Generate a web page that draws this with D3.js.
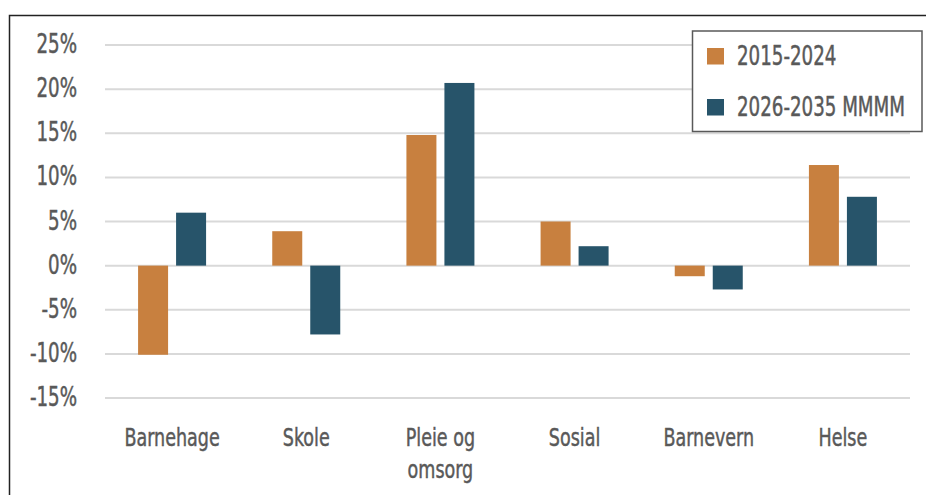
<!DOCTYPE html>
<html>
<head>
<meta charset="utf-8">
<script src="https://cdn.jsdelivr.net/npm/d3@7"></script>
<style>
  html, body { margin: 0; padding: 0; background: #fff; }
  svg { display: block; }
  text { font-family: "DejaVu Sans Condensed", "DejaVu Sans", sans-serif; font-stretch: condensed; fill: #595959; stroke: #595959; stroke-width: 0.45px; }
</style>
</head>
<body>
<svg id="chart" width="926" height="495"></svg>
<script>
// Sectors (category labels, split into lines)
const categories = ["Barnehage", "Skole", "Pleie og\nomsorg", "Sosial", "Barnevern", "Helse"];
// Percentage change per sector for each period
const series2015 = [-10.1, 3.9, 14.8, 5.0, -1.2, 11.4];
const series2026 = [6.0, -7.8, 20.7, 2.2, -2.7, 7.8];
const seriesNames = ["2015-2024", "2026-2035 MMMM"];
const seriesColors = ["#C8803F", "#27546A"];
const yTicks = [-15, -10, -5, 0, 5, 10, 15, 20, 25];

// Narrow the lettering horizontally for a tall, condensed look
const squeeze = "scale(0.78,1)";

const svg = d3.select("#chart");

// Outer frame
svg.append("rect")
  .attr("x", 9.5).attr("y", 15.5)
  .attr("width", 940).attr("height", 500)
  .attr("fill", "none").attr("stroke", "#222").attr("stroke-width", 1.5);

const plot = { left: 105, right: 910, top: 45, bottom: 398 };

const y = d3.scaleLinear().domain([-15, 25]).range([plot.bottom, plot.top]);
const x0 = d3.scaleBand().domain(categories).range([plot.left, plot.right]).paddingInner(0).paddingOuter(0);
const barW = 30, gap = 8;

// Gridlines
svg.append("g").selectAll("line").data(yTicks).join("line")
  .attr("x1", plot.left).attr("x2", plot.right)
  .attr("y1", d => y(d)).attr("y2", d => y(d))
  .attr("stroke", "#d9d9d9").attr("stroke-width", 2);

// Y axis labels
const yAxis = d3.axisLeft(y).tickValues(yTicks).tickFormat(d => d + "%").tickSize(0).tickPadding(0);
const yg = svg.append("g").attr("transform", "translate(77,0)").call(yAxis);
yg.select(".domain").remove();
yg.selectAll("text")
  .attr("x", 0).attr("dy", "0.29em")
  .attr("transform", squeeze)
  .attr("font-size", 26)
  .attr("font-family", null).style("fill", "#595959");

// Bars
const data = [series2015, series2026];
data.forEach((vals, si) => {
  svg.append("g").selectAll("rect").data(vals).join("rect")
    .attr("x", (d, i) => x0.bandwidth() / 2 + x0(categories[i]) + (si === 0 ? -(barW + gap / 2) : gap / 2))
    .attr("width", barW)
    .attr("y", d => y(Math.max(0, d)))
    .attr("height", d => Math.abs(y(d) - y(0)))
    .attr("fill", seriesColors[si]);
});

// Category labels
const xg = svg.append("g");
categories.forEach(c => {
  const g = xg.append("g")
    .attr("transform", `translate(${x0(c) + x0.bandwidth() / 2},446) ${squeeze}`);
  c.split("\n").forEach((line, li) => {
    g.append("text")
      .attr("x", 0).attr("y", li * 32)
      .attr("text-anchor", "middle")
      .attr("font-size", 25)
      .text(line);
  });
});

// Legend
const lg = svg.append("g");
lg.append("rect").attr("x", 692.5).attr("y", 31).attr("width", 229.5).attr("height", 100.5)
  .attr("fill", "#fff").attr("stroke", "#595959").attr("stroke-width", 1.5);
seriesNames.forEach((name, i) => {
  const yy = 48 + i * 51;
  lg.append("rect").attr("x", 707).attr("y", yy).attr("width", 17).attr("height", 16.5).attr("fill", seriesColors[i]);
  lg.append("text")
    .attr("transform", `translate(737,${yy + 16.5}) ${squeeze}`)
    .attr("font-size", 26)
    .text(name);
});
</script>
</body>
</html>
